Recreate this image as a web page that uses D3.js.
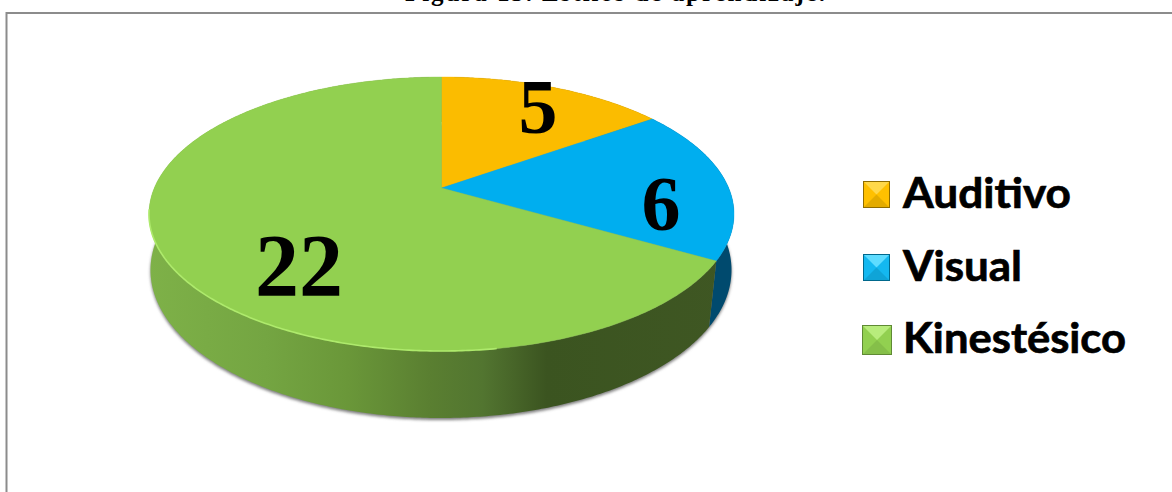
<!DOCTYPE html>
<html><head><meta charset="utf-8">
<script src="https://cdn.jsdelivr.net/npm/d3@7/dist/d3.min.js"></script>
<style>html,body{margin:0;padding:0;background:#fff;overflow:hidden}svg{display:block}</style>
</head><body><div id="c"></div>
<script>
const categories = ["Auditivo", "Visual", "Kinestésico"];
const values = [5, 6, 22];
const valueLabels = ["5", "6", "22"];
const topColors = ["#fbbc00", "#00aeef", "#92d050"];
const sideColors = ["#8a6800", "#004a6e", "#5a7f30"];
const bevelLight = ["#ffd84a", "#5fdcff", "#b8ec7c"];
const bevelDark = ["#8f6c00", "#00688c", "#5f8a34"];
const bevelMid = ["#ffc000", "#14b8f0", "#92d050"];
const titleText = "Figura 15. Estilos de aprendizaje.";

// layout
const W = 1172, H = 492;
const top_ = {cx: 441.5, cy: 214, rx: 292.5, ry: 137, apex: -26};
const bot_ = {cx: 441, cy: 270, rx: 290.5, ry: 148, apex: -21};
const labelPos = [{x: 538, y: 133, s: 78}, {x: 661, y: 230, s: 78}, {x: 299, y: 295, s: 88}];
const legendPos = [{x: 863, y: 181, s: 27, ty: 208, w: 168}, {x: 863, y: 254, s: 27, ty: 281, w: 119}, {x: 862, y: 325, s: 30, ty: 353, w: 223}];

const svg = d3.select("#c").append("svg").attr("width", W).attr("height", H);
const defs = svg.append("defs");

// perspective map from the unit disc to the picture
function project(d, theta, r = 1) {
  const k = d.apex / d.ry;
  const u = r * Math.sin(theta), v = -r * Math.cos(theta);
  const w = 1 + k * v;
  return [d.cx + d.rx * Math.sqrt(1 - k * k) * u / w, d.cy + (d.ry * v + d.apex) / w];
}
const line = d3.line();
const arcPts = (d, a0, a1) => {
  const n = Math.max(2, Math.ceil(Math.abs(a1 - a0) / 0.01));
  return d3.range(n + 1).map(i => project(d, a0 + (a1 - a0) * i / n));
};
const slices = d3.pie().sort(null).value(v => v)(values);

// frame
svg.append("path").attr("d", line([[6.5, H], [6.5, 13], [W, 13]]))
  .attr("fill", "none").attr("stroke", "#8c8c8c").attr("stroke-width", 2);

// clipped caption
svg.append("text").attr("x", 405).attr("y", 0.5).attr("textLength", 420).attr("lengthAdjust", "spacing")
  .attr("font-family", "Liberation Serif").attr("font-weight", "bold").attr("font-size", 25)
  .attr("fill", "#000").text(titleText);

// shadow
defs.append("filter").attr("id", "blur").attr("x", "-5%").attr("y", "-5%").attr("width", "110%").attr("height", "110%")
  .append("feGaussianBlur").attr("stdDeviation", 1.8);
defs.append("filter").attr("id", "soft").append("feGaussianBlur").attr("stdDeviation", 0.7);
svg.append("path").attr("d", line(arcPts(bot_, 0, 2 * Math.PI)) + "Z")
  .attr("transform", "translate(0,2)").attr("fill", "#7d7d7d").attr("filter", "url(#blur)");

// side gradient
const sideGrad = defs.append("linearGradient").attr("id", "sideG").attr("gradientUnits", "userSpaceOnUse")
  .attr("x1", 149).attr("x2", 734).attr("y1", 0).attr("y2", 0);
[[0, "#7eb148"], [0.2, "#74a542"], [0.34, "#6a9739"], [0.48, "#5a7f31"], [0.57, "#527530"], [0.62, "#486629"], [0.68, "#3b5420"], [1, "#3f5723"]]
  .forEach(s => sideGrad.append("stop").attr("offset", s[0]).attr("stop-color", s[1]));

// sides
slices.forEach((s, i) => {
  const a0 = s.startAngle, a1 = s.endAngle;
  const pts = arcPts(top_, a0, a1).concat(arcPts(bot_, a1, a0));
  svg.append("path").attr("d", line(pts) + "Z")
    .attr("fill", i === 2 ? "url(#sideG)" : sideColors[i]);
});

// top faces
const apex = project(top_, 0, 0);
slices.forEach((s, i) => {
  svg.append("path").attr("d", line([apex].concat(arcPts(top_, s.startAngle, s.endAngle))) + "Z")
    .attr("fill", topColors[i]).attr("stroke", topColors[i]).attr("stroke-width", 0.4);
});

// rim highlight on the green slice
svg.append("path").attr("d", line(arcPts(top_, Math.PI * 0.95, Math.PI * 1.45)))
  .attr("fill", "none").attr("stroke", "#aeea6c").attr("stroke-width", 1.6).attr("filter", "url(#soft)");

// value labels
slices.forEach((s, i) => {
  svg.append("text").attr("x", labelPos[i].x).attr("y", labelPos[i].y).attr("text-anchor", "middle")
    .attr("font-family", "Liberation Serif").attr("font-weight", "bold").attr("font-size", labelPos[i].s)
    .attr("fill", "#000").text(valueLabels[i]);
});

// legend
categories.forEach((c, i) => {
  const p = legendPos[i], x0 = p.x, y0 = p.y, x1 = p.x + p.s, y1 = p.y + p.s;
  const g = svg.append("g");
  const m = [(x0 + x1) / 2, (y0 + y1) / 2];
  g.append("rect").attr("x", x0).attr("y", y0).attr("width", p.s).attr("height", p.s).attr("fill", bevelMid[i]);
  g.append("path").attr("d", line([[x0, y0], [x1, y0], m]) + "Z").attr("fill", bevelLight[i]);
  g.append("path").attr("d", line([[x0, y1], [x1, y1], m]) + "Z").attr("fill", d3.interpolateRgb(bevelMid[i], bevelDark[i])(0.25));
  g.append("rect").attr("x", x0 + 0.5).attr("y", y0 + 0.5).attr("width", p.s - 1).attr("height", p.s - 1)
    .attr("fill", "none").attr("stroke", bevelDark[i]).attr("stroke-width", 1);
  svg.append("text").attr("x", 903).attr("y", p.ty).attr("font-family", "Lato").attr("font-weight", "bold")
    .attr("font-size", 42).attr("textLength", p.w).attr("lengthAdjust", "spacingAndGlyphs")
    .attr("stroke", "#000").attr("stroke-width", 0.7).attr("fill", "#000").text(c);
});
</script></body></html>
